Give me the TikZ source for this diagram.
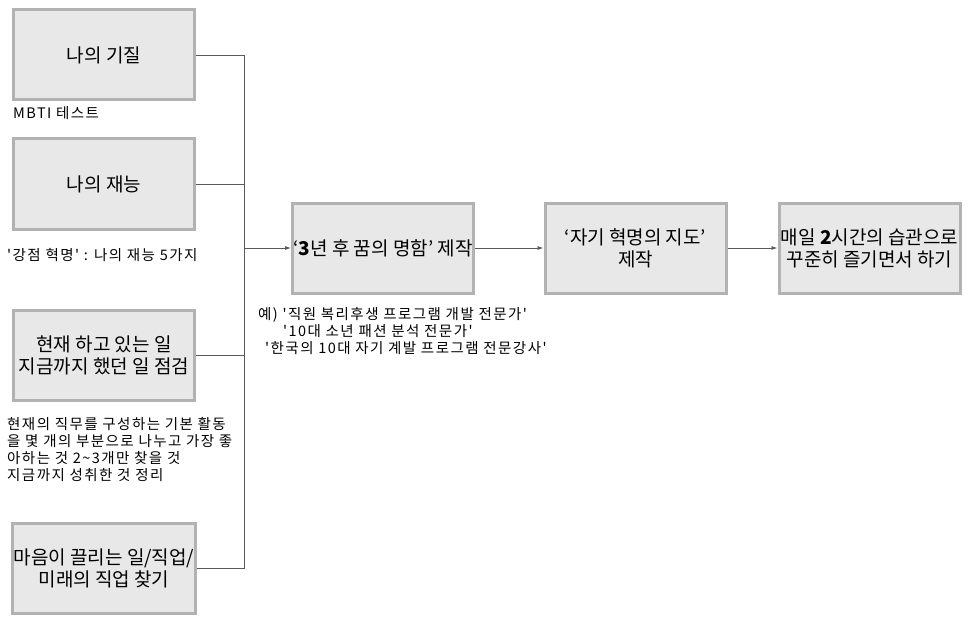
\documentclass[tikz,border=0pt]{standalone}
\usepackage{fontspec}
\setmainfont{Noto Sans CJK KR}[Ligatures=TeXOff]
\newfontfamily\notefont{Noto Sans CJK KR}[Ligatures=TeXOff, LetterSpace=10]
\usetikzlibrary{arrows.meta,positioning}
\definecolor{boxfill}{HTML}{E8E8E8}
\definecolor{boxline}{HTML}{B2B2B2}
\definecolor{linkgray}{HTML}{5A5A5A}

\begin{document}
\begin{tikzpicture}[
  x=1pt,
  y=-1pt,
  stepbox/.style={draw=boxline, fill=boxfill, line width=3pt, minimum width=181pt, minimum height=90pt, inner sep=1pt, align=center, font=\fontsize{19}{22}\selectfont},
  note/.style={font=\notefont\fontsize{14.5}{17}\selectfont, align=left, inner sep=0pt},
  link/.style={draw=linkgray, line width=0.8pt},
  flow/.style={link, -{Latex[length=6pt,width=4pt]}}
]
\useasboundingbox (0,0) rectangle (977,623);

\node[stepbox] (temper) at (104,55) {나의 기질};
\node[stepbox] (talent) at (104,184) {나의 재능};
\node[stepbox] (current) at (104,355) {현재 하고 있는 일\\지금까지 했던 일 점검};
\node[stepbox] (dream) at (104,568) {마음이 끌리는 일/직업/\\미래의 직업 찾기};

\node[stepbox] (card) at (383,248) {‘\textbf{3}년 후 꿈의 명함’ 제작};
\node[stepbox] (map) at (635.5,248) {‘자기 혁명의 지도’\\제작};
\node[stepbox] (habit) at (869.5,248) {매일 \textbf{2}시간의 습관으로\\꾸준히 즐기면서 하기};

\node[note, anchor=west] (mbti) at (13,113) {MBTI 테스트};
\node[note, anchor=west] (strength) at (7,255) {'강점 혁명' : 나의 재능 5가지};
\node[note, anchor=north west] (duty) at (7,417) {현재의 직무를 구성하는 기본 활동\\을 몇 개의 부분으로 나누고 가장 좋\\아하는 것 2\textasciitilde3개만 찾을 것\\지금까지 성취한 것 정리};
\node[note, anchor=north west] (sample) at (258,307) {예) '직원 복리후생 프로그램 개발 전문가'\\\hspace*{25pt}'10대 소년 패션 분석 전문가'\\\hspace*{7pt}'한국의 10대 자기 계발 프로그램 전문강사'};

\coordinate (trunk) at (244,248);
\draw[link] (temper.east) -| (trunk);
\draw[link] (dream.east) -| (trunk);
\draw[link] (talent.east) -- (talent.east -| trunk);
\draw[link] (current.east) -- (current.east -| trunk);
\draw[flow] (trunk) -- (card.west);
\draw[flow] (card.east) -- (map.west);
\draw[flow] (map.east) -- (habit.west);
\end{tikzpicture}
\end{document}
